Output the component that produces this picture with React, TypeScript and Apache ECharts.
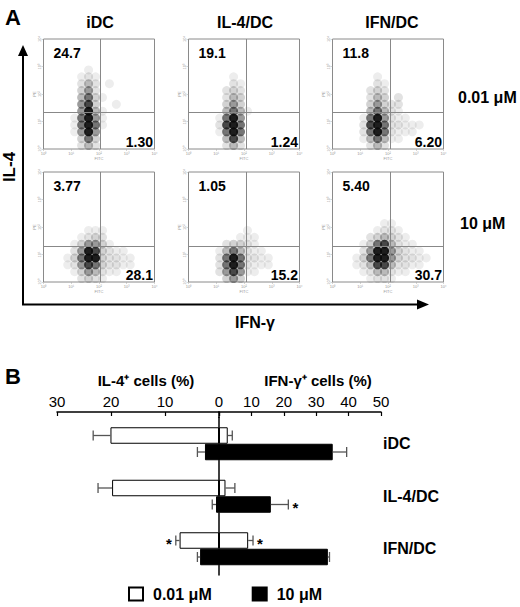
import React, { useEffect, useRef } from "react";
import * as echarts from "echarts";

// ---------- Panel A: flow cytometry dot plots ----------
const plotNames = ["iDC", "IL-4/DC", "IFN/DC"];
const doseNames = ["0.01 μM", "10 μM"];
const upperLeftPct = [
  ["24.7", "19.1", "11.8"],
  ["3.77", "1.05", "5.40"],
];
const lowerRightPct = [
  ["1.30", "1.24", "6.20"],
  ["28.1", "15.2", "30.7"],
];
// quadrant gates, in decades (log10 of fluorescence)
const gateFITC = [2.05, 2.07, 2.09];
const gatePE = [1.32, 1.3];

// density of events: 16 x 16 cells of 0.25 decade,
// rows listed from the bottom (PE 10^0) upward, columns FITC 10^0 -> 10^4
const densIDCLow = [
  "0000024200000000",
  "0000036300000000",
  "0000158500000000",
  "0000169610000000",
  "0000169510000000",
  "0000058410000000",
  "0000057300100000",
  "0000046310000000",
  "0000035200000000",
  "0000024201000000",
  "0000012100000000",
  "0000001000000000",
];
const densIL4Low = [
  "0000024200000000",
  "0000047400000000",
  "0000169600000000",
  "0000279600000000",
  "0000168500000000",
  "0000046410000000",
  "0000035300000000",
  "0000024300000000",
  "0000023200000000",
  "0000002100000000",
  "0000001000000000",
];
const densIFNLow = [
  "0000024200000000",
  "0000146411000000",
  "0000268621110000",
  "0000279622111000",
  "0000168521100000",
  "0000046421000000",
  "0000035322000000",
  "0000024302000000",
  "0000023200000000",
  "0000002100000000",
  "0000001000000000",
];
const densIDCHigh = [
  "0000023210000000",
  "0000135421100000",
  "0001257632211000",
  "0001369832211000",
  "0000258732110000",
  "0000135531000000",
  "0000012320000000",
  "0000001110000000",
];
const densIL4High = [
  "0000035300000000",
  "0000257511000000",
  "0000269621110000",
  "0000269622110000",
  "0000146421100000",
  "0000023321000000",
  "0000000111000000",
  "0000000010000000",
];
const densIFNHigh = [
  "0000012210000000",
  "0000124421100000",
  "0001247742211000",
  "0001369953221100",
  "0000258853211000",
  "0000136742110000",
  "0000023432100000",
  "0000001221000000",
  "0000000110000000",
];
const densities = [
  [densIDCLow, densIL4Low, densIFNLow],
  [densIDCHigh, densIL4High, densIFNHigh],
];

// ---------- Panel B: bar chart ----------
const categories = ["iDC", "IL-4/DC", "IFN/DC"];
const il4Low = [20.1, 19.8, 7.3];
const il4LowSd = [3.2, 2.6, 0.7];
const il4High = [2.6, 0.55, 3.5];
const il4HighSd = [1.4, 0.7, 0.5];
const ifnLow = [2.7, 2.0, 9.0];
const ifnLowSd = [1.4, 2.9, 1.5];
const ifnHigh = [35.1, 16.0, 33.6];
const ifnHighSd = [4.3, 5.4, 0.5];
const il4LowStar = [0, 0, 1];
const il4HighStar = [0, 0, 0];
const ifnLowStar = [0, 0, 1];
const ifnHighStar = [0, 1, 0];

const FONT = 'Arial, "Liberation Sans", Helvetica, sans-serif';
const SUP = ["⁰", "¹", "²", "³", "⁴"];

const A_LEFT = [43.5, 188.5, 332.5];
const A_TOP = [39, 172];
const A_W = 111;
const A_H = 110;
const BAR_W = 16.5;

function decadeLabel(v: number) {
  const n = Math.round(Math.log10(v));
  return "10" + (SUP[n] ?? "");
}

function densityOpacity(d: number) {
  return Math.min(0.92, 0.06 + 0.014 * d * d);
}

function buildOption() {
  const grid: any[] = [];
  const xAxis: any[] = [];
  const yAxis: any[] = [];
  const series: any[] = [];
  const graphic: any[] = [];

  for (let r = 0; r < 2; r++) {
    for (let c = 0; c < 3; c++) {
      const idx = r * 3 + c;
      grid.push({
        left: A_LEFT[c],
        top: A_TOP[r],
        width: A_W,
        height: A_H,
        show: true,
        borderColor: "#8a8a8a",
        borderWidth: 1,
      });
      const tinyAxis = {
        gridIndex: idx,
        type: "log",
        logBase: 10,
        min: 1,
        max: 10000,
        axisLine: { show: false },
        axisTick: { show: true, length: 2, lineStyle: { color: "#aaa", width: 0.5 } },
        splitLine: { show: false },
        nameLocation: "middle",
        nameTextStyle: { fontSize: 4, color: "#999", fontFamily: FONT },
      };
      xAxis.push({
        ...tinyAxis,
        name: "FITC",
        nameGap: 7,
        axisLabel: { fontSize: 4, color: "#999", margin: 2, formatter: decadeLabel, fontFamily: FONT },
      });
      yAxis.push({
        ...tinyAxis,
        name: "PE",
        nameGap: 6,
        axisLabel: { fontSize: 4, color: "#999", margin: 2, rotate: 90, formatter: decadeLabel, fontFamily: FONT },
      });
      const data: any[] = [];
      densities[r][c].forEach((row, yb) => {
        for (let xb = 0; xb < row.length; xb++) {
          const d = Number(row[xb]);
          if (!d) continue;
          data.push({
            value: [Math.pow(10, 0.125 + 0.25 * xb), Math.pow(10, 0.125 + 0.25 * yb)],
            itemStyle: { opacity: densityOpacity(d) },
          });
        }
      });
      series.push({
        type: "scatter",
        xAxisIndex: idx,
        yAxisIndex: idx,
        data,
        silent: true,
        symbolSize: 9,
        itemStyle: { color: "#0a0a0a" },
        markLine: {
          silent: true,
          symbol: "none",
          label: { show: false },
          lineStyle: { color: "#888", width: 1, type: "solid" },
          data: [{ xAxis: Math.pow(10, gateFITC[c]) }, { yAxis: Math.pow(10, gatePE[r]) }],
        },
      });
      graphic.push({
        type: "text",
        x: A_LEFT[c] + 10,
        y: A_TOP[r] + 14,
        style: { text: upperLeftPct[r][c], font: `bold 14px ${FONT}`, fill: "#000", textAlign: "left", textVerticalAlign: "middle" },
      });
      graphic.push({
        type: "text",
        x: A_LEFT[c] + A_W - 1.5,
        y: A_TOP[r] + A_H - 7,
        style: { text: lowerRightPct[r][c], font: `bold 14px ${FONT}`, fill: "#000", textAlign: "right", textVerticalAlign: "middle" },
      });
    }
  }

  // column titles and row labels
  const colX = [100, 245, 392];
  plotNames.forEach((n, c) =>
    graphic.push({
      type: "text",
      x: colX[c],
      y: 22,
      style: { text: n, font: `bold 16px ${FONT}`, fill: "#000", textAlign: "center", textVerticalAlign: "middle" },
    })
  );
  const rowY = [97, 223];
  doseNames.forEach((n, r) =>
    graphic.push({
      type: "text",
      x: r === 0 ? 458 : 460,
      y: rowY[r],
      style: { text: n, font: `bold 16px ${FONT}`, fill: "#000", textAlign: "left", textVerticalAlign: "middle" },
    })
  );
  graphic.push(
    { type: "text", x: 5, y: 17, style: { text: "A", font: `bold 22px ${FONT}`, fill: "#000", textVerticalAlign: "middle" } },
    { type: "text", x: 5, y: 376, style: { text: "B", font: `bold 22px ${FONT}`, fill: "#000", textVerticalAlign: "middle" } },
    { type: "line", shape: { x1: 23, y1: 305, x2: 23, y2: 54 }, style: { stroke: "#000", lineWidth: 2 } },
    { type: "polygon", shape: { points: [[23, 45], [18, 56], [28, 56]] }, style: { fill: "#000" } },
    { type: "line", shape: { x1: 22, y1: 304.5, x2: 418, y2: 304.5 }, style: { stroke: "#000", lineWidth: 2 } },
    { type: "polygon", shape: { points: [[429, 304.5], [417, 299.5], [417, 309.5]] }, style: { fill: "#000" } },
    {
      type: "text",
      x: 9,
      y: 167,
      rotation: Math.PI / 2,
      style: { text: "IL-4", font: `bold 17px ${FONT}`, fill: "#000", textAlign: "center", textVerticalAlign: "middle" },
    },
    {
      type: "text",
      x: 255,
      y: 322,
      style: { text: "IFN-γ", font: `bold 16px ${FONT}`, fill: "#000", textAlign: "center", textVerticalAlign: "middle" },
    },
    { type: "line", shape: { x1: 219, y1: 411.5, x2: 219, y2: 418 }, style: { stroke: "#000", lineWidth: 1.5 } }
  );

  // ---------- Panel B ----------
  grid.push({ left: 57, top: 417.5, width: 162, height: 157.5 });
  grid.push({ left: 219, top: 417.5, width: 162, height: 157.5 });
  const topAxis = (gi: number, max: number, inverse: boolean, name: string, shift: number) => ({
    gridIndex: gi,
    type: "value",
    min: 0,
    max,
    interval: 10,
    inverse,
    position: "top",
    offset: 5.5,
    axisLine: { show: true, lineStyle: { color: "#000", width: 1.5 } },
    axisTick: { show: true, inside: true, length: 4, lineStyle: { color: "#000", width: 1.2 } },
    axisLabel: {
      fontSize: 15,
      color: "#000",
      margin: 3,
      fontFamily: FONT,
      formatter: (v: number) => (inverse && v === 0 ? "" : String(v)),
    },
    splitLine: { show: false },
    name,
    nameLocation: "middle",
    nameGap: 24,
    nameTextStyle: { fontSize: 15, fontWeight: "bold", color: "#000", fontFamily: FONT, padding: [0, 0, 0, shift] },
  });
  xAxis.push(topAxis(6, 30, true, "IL-4⁺ cells (%)", 16));
  xAxis.push(topAxis(7, 50, false, "IFN-γ⁺ cells (%)", 36));
  yAxis.push({ gridIndex: 6, type: "category", data: categories, inverse: true, show: false });
  yAxis.push({
    gridIndex: 7,
    type: "category",
    data: categories,
    inverse: true,
    position: "left",
    z: 10,
    axisLine: { show: true, lineStyle: { color: "#000", width: 1.5 } },
    axisTick: { show: false },
    axisLabel: { show: false },
  });
  yAxis.push({
    gridIndex: 7,
    type: "category",
    data: categories,
    inverse: true,
    position: "right",
    axisLine: { show: false },
    axisTick: { show: false },
    axisLabel: {
      fontSize: 16,
      fontWeight: "bold",
      color: "#000",
      margin: 2,
      align: "left",
      fontFamily: FONT,
      padding: [16, 0, 0, 0],
    },
  });

  const lowStyle = { color: "#fff", borderColor: "#000", borderWidth: 1 };
  const highStyle = { color: "#000", borderColor: "#000", borderWidth: 1 };
  const bar = (name: string, gi: number, data: number[], style: any) => ({
    type: "bar",
    name,
    xAxisIndex: gi,
    yAxisIndex: gi,
    data,
    barWidth: BAR_W,
    barGap: "0%",
    itemStyle: style,
    silent: true,
  });
  series.push(bar(doseNames[0], 6, il4Low, lowStyle));
  series.push(bar(doseNames[1], 6, il4High, highStyle));
  series.push(bar(doseNames[0], 7, ifnLow, lowStyle));
  series.push(bar(doseNames[1], 7, ifnHigh, highStyle));

  const errSeries = (gi: number, mean: number[], sd: number[], star: number[], dy: number) => ({
    type: "custom",
    xAxisIndex: gi,
    yAxisIndex: gi,
    silent: true,
    z: 3,
    encode: { x: 0, y: 1 },
    data: mean.map((m, i) => [m, i, sd[i], star[i]]),
    renderItem: (_p: any, api: any) => {
      const m = api.value(0);
      const ci = api.value(1);
      const s = api.value(2);
      const st = api.value(3);
      const p0 = api.coord([m, ci]);
      const p1 = api.coord([m + s, ci]);
      const y = p0[1] + dy;
      const dir = p1[0] >= p0[0] ? 1 : -1;
      const st2 = { stroke: "#555", lineWidth: 1.3 };
      const children: any[] = [
        { type: "line", shape: { x1: p0[0], y1: y, x2: p1[0], y2: y }, style: st2 },
        { type: "line", shape: { x1: p1[0], y1: y - 5, x2: p1[0], y2: y + 5 }, style: st2 },
      ];
      if (st) {
        children.push({
          type: "text",
          x: p1[0] + dir * 7,
          y: y + 3,
          style: { text: "*", font: `bold 15px ${FONT}`, fill: "#000", textAlign: "center", textVerticalAlign: "middle" },
        });
      }
      return { type: "group", children };
    },
  });
  series.push(errSeries(6, il4Low, il4LowSd, il4LowStar, -BAR_W / 2));
  series.push(errSeries(6, il4High, il4HighSd, il4HighStar, BAR_W / 2));
  series.push(errSeries(7, ifnLow, ifnLowSd, ifnLowStar, -BAR_W / 2));
  series.push(errSeries(7, ifnHigh, ifnHighSd, ifnHighStar, BAR_W / 2));

  return {
    animation: false,
    backgroundColor: "#fff",
    textStyle: { fontFamily: FONT },
    grid,
    xAxis,
    yAxis,
    series,
    graphic,
    legend: {
      data: doseNames,
      left: 128,
      top: 586,
      padding: 0,
      itemWidth: 14,
      itemHeight: 13,
      itemGap: 40,
      icon: "rect",
      selectedMode: false,
      textStyle: { fontSize: 16, fontWeight: "bold", color: "#000", fontFamily: FONT, padding: [0, 0, 0, 5] },
    },
  };
}

export default function App() {
  const ref = useRef<HTMLDivElement>(null);
  useEffect(() => {
    document.body.style.margin = "0";
    if (!ref.current) return;
    const chart = echarts.init(ref.current, undefined, { renderer: "svg" });
    chart.setOption(buildOption() as any);
    return () => chart.dispose();
  }, []);
  return <div ref={ref} style={{ width: 520, height: 607 }} />;
}
